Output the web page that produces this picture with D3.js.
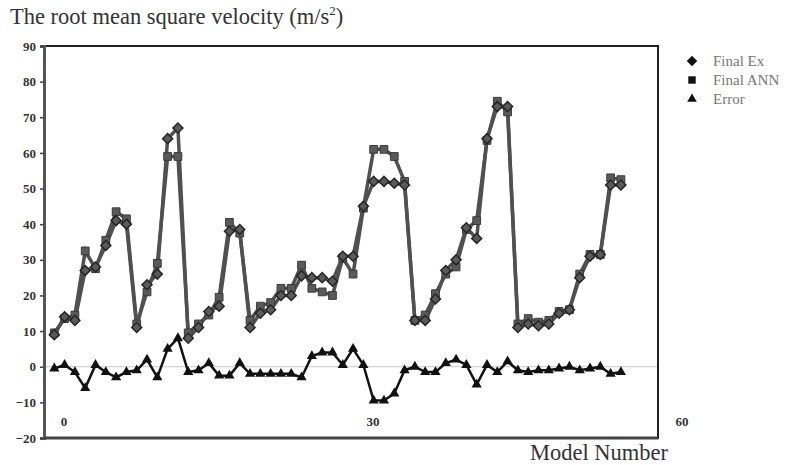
<!DOCTYPE html>
<html>
<head>
<meta charset="utf-8">
<script src="https://cdn.jsdelivr.net/npm/d3@7"></script>
<style>
  body { margin: 0; background: #fff; }
  svg { display: block; font-family: "Liberation Serif", "Times New Roman", serif; }
</style>
</head>
<body>
<svg id="chart" width="787" height="465"></svg>
<script>
// model numbers on the x axis
var models = [1, 2, 3, 4, 5, 6, 7, 8, 9, 10, 11, 12, 13, 14, 15, 16, 17, 18, 19, 20,
              21, 22, 23, 24, 25, 26, 27, 28, 29, 30, 31, 32, 33, 34, 35, 36, 37, 38, 39, 40,
              41, 42, 43, 44, 45, 46, 47, 48, 49, 50, 51, 52, 53, 54, 55, 56];

var finalEx = [9, 14, 13, 27, 28, 34, 41, 40, 11, 23, 26, 64, 67, 8, 11, 15.5, 17, 38, 38.5, 11,
               15, 16, 20, 20, 25.5, 25, 25, 24, 31, 31, 45, 52, 52, 51.5, 51, 13, 13, 19, 27, 30,
               39, 36, 64, 73, 73, 11, 12, 11.5, 12, 15, 16, 25, 31, 31.5, 51, 51];

var finalANN = [9.5, 13.5, 14.5, 32.5, 27.5, 35.5, 43.5, 41.5, 12, 21, 29, 59, 59, 9.5, 12, 14.5, 19.5, 40.5, 37.5, 13,
                17, 18, 22, 22, 28.5, 22, 21, 20, 30.5, 26, 44.5, 61, 61, 59, 52, 13, 14.5, 20.5, 26, 28,
                38.5, 41, 63.5, 74.5, 71.5, 12, 13.5, 12.5, 13, 15.5, 16, 26, 31.5, 31.5, 53, 52.5];

var errorVals = [-0.5, 0.5, -1.5, -6, 0.5, -1.5, -3, -1.5, -1, 2, -3, 5, 8, -1.5, -1, 1, -2.5, -2.5, 1, -2,
                 -2, -2, -2, -2, -3, 3, 4, 4, 0.5, 5, 0.5, -9.5, -9.5, -7.5, -1, 0, -1.5, -1.5, 1, 2,
                 0.5, -5, 0.5, -1.5, 1.5, -1, -1.5, -1, -1, -0.5, 0, -1, -0.5, 0, -2, -1.5];

var yTicks = [-20, -10, 0, 10, 20, 30, 40, 50, 60, 70, 80, 90];
var xTicks = [0, 30, 60];
var seriesNames = ["Final Ex", "Final ANN", "Error"];

var svg = d3.select("#chart");
var margin = {left: 44, top: 46, right: 129, bottom: 27};
var width = 787 - margin.left - margin.right;
var height = 465 - margin.top - margin.bottom;

var x = d3.scaleLinear().domain([0, 59.6]).range([0, width]);
var y = d3.scaleLinear().domain([-20, 90]).range([height, 0]);

var g = svg.append("g").attr("transform", "translate(" + margin.left + "," + margin.top + ")");

// title
var title = svg.append("text")
    .attr("x", 10).attr("y", 24)
    .attr("font-size", 22.5)
    .attr("fill", "#333");
title.append("tspan").text("The root mean square velocity (m/s");
title.append("tspan").attr("font-size", 13).attr("dy", -9).text("2");
title.append("tspan").attr("dy", 9).text(")");

// zero reference line
g.append("line")
    .attr("x1", 0).attr("x2", width)
    .attr("y1", y(0)).attr("y2", y(0))
    .attr("stroke", "#c8c8c8").attr("stroke-width", 1);

// frame
g.append("rect")
    .attr("width", width).attr("height", height)
    .attr("fill", "none").attr("stroke", "#222").attr("stroke-width", 2);

// y axis
var yAxis = g.append("g")
    .call(d3.axisLeft(y).tickValues(yTicks).tickSize(4).tickPadding(4));
yAxis.select(".domain").attr("stroke", "#555").attr("stroke-width", 3);
yAxis.selectAll(".tick line").attr("stroke", "#444").attr("stroke-width", 1.5);
yAxis.selectAll(".tick text")
    .attr("font-family", "Liberation Serif")
    .attr("font-size", 13).attr("font-weight", "bold").attr("fill", "#333");

// bottom line
g.append("line")
    .attr("x1", 0).attr("x2", width)
    .attr("y1", height).attr("y2", height)
    .attr("stroke", "#444").attr("stroke-width", 3);

// x labels (sit inside plot, shifted right of their model)
g.selectAll(".xlab")
    .data(xTicks)
    .enter().append("text")
    .attr("class", "xlab")
    .attr("x", d => x(d) + 20)
    .attr("y", height - 12)
    .attr("text-anchor", "middle")
    .attr("font-size", 13).attr("font-weight", "bold").attr("fill", "#333")
    .text(d => d);

svg.append("text")
    .attr("x", 668).attr("y", 460)
    .attr("text-anchor", "end")
    .attr("font-size", 22.5).attr("fill", "#333")
    .text("Model Number");

var line = d3.line().x(d => x(d[0])).y(d => y(d[1]));

function pairs(vals) { return models.map((m, i) => [m, vals[i]]); }

var exData = pairs(finalEx);
var annData = pairs(finalANN);
var errData = pairs(errorVals);

g.append("path").datum(annData).attr("d", line)
    .attr("fill", "none").attr("stroke", "#505050").attr("stroke-width", 3.5);
g.append("path").datum(exData).attr("d", line)
    .attr("fill", "none").attr("stroke", "#505050").attr("stroke-width", 3.5);
g.append("path").datum(errData).attr("d", line)
    .attr("fill", "none").attr("stroke", "#111").attr("stroke-width", 2.5);

var diamond = d3.symbol().type(d3.symbolSquare).size(50);
var square = d3.symbol().type(d3.symbolSquare).size(60);
var triangle = d3.symbol().type(d3.symbolTriangle).size(45);

g.selectAll(".ann").data(annData).enter().append("path")
    .attr("class", "ann")
    .attr("d", square)
    .attr("transform", d => "translate(" + x(d[0]) + "," + y(d[1]) + ")")
    .attr("fill", "#5a5a5a").attr("stroke", "#3a3a3a").attr("stroke-width", 1);

g.selectAll(".ex").data(exData).enter().append("path")
    .attr("class", "ex")
    .attr("d", diamond)
    .attr("transform", d => "translate(" + x(d[0]) + "," + y(d[1]) + ") rotate(45)")
    .attr("fill", "#5a5a5a").attr("stroke", "#262626").attr("stroke-width", 1.5);

g.selectAll(".err").data(errData).enter().append("path")
    .attr("class", "err")
    .attr("d", triangle)
    .attr("transform", d => "translate(" + x(d[0]) + "," + y(d[1]) + ")")
    .attr("fill", "#111");

// legend
var legendSymbols = [d3.symbol().type(d3.symbolSquare).size(55),
                     d3.symbol().type(d3.symbolSquare).size(55),
                     d3.symbol().type(d3.symbolTriangle).size(40)];
var legend = svg.append("g").attr("transform", "translate(692,61)")
    .selectAll("g").data(seriesNames).enter().append("g")
    .attr("transform", (d, i) => "translate(0," + i * 19 + ")");
legend.append("path")
    .attr("d", (d, i) => legendSymbols[i]())
    .attr("transform", (d, i) => i === 0 ? "rotate(45)" : null)
    .attr("fill", "#111");
legend.append("text")
    .attr("x", 21).attr("dy", "0.35em")
    .attr("font-size", 15).attr("fill", "#777")
    .text(d => d);
</script>
</body>
</html>
